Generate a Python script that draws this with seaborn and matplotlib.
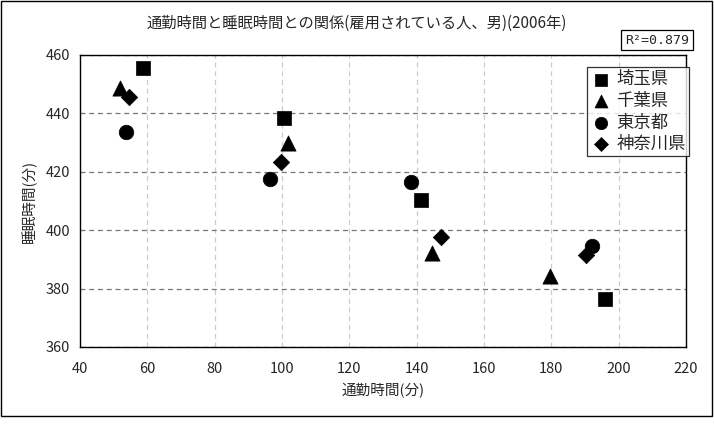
import matplotlib
matplotlib.use("Agg")
import matplotlib.pyplot as plt
import seaborn as sns
import pandas as pd
from matplotlib.patches import Rectangle

sns.set_style("white")
plt.rcParams['font.family'] = ['Noto Sans CJK JP', 'DejaVu Sans']

prefs = ["埼玉県", "千葉県", "東京都", "神奈川県"]
saitama_x = [58.7, 100.6, 141.3, 195.9]
saitama_y = [455.5, 438.4, 410.3, 376.4]
chiba_x = [51.9, 101.8, 144.6, 179.6]
chiba_y = [448.7, 430.0, 392.2, 384.3]
tokyo_x = [53.7, 96.4, 138.3, 192.1]
tokyo_y = [433.6, 417.5, 416.5, 394.6]
kanagawa_x = [54.6, 99.7, 147.2, 190.3]
kanagawa_y = [445.6, 423.4, 397.7, 391.5]
x_ticks = [40, 60, 80, 100, 120, 140, 160, 180, 200, 220]
y_ticks = [360, 380, 400, 420, 440, 460]
title = "通勤時間と睡眠時間との関係(雇用されている人、男)(2006年)"
xlabel = "通勤時間(分)"
ylabel = "睡眠時間(分)"
r2_text = "R²=0.879"

rows = []
for p, xs, ys in zip(prefs, [saitama_x, chiba_x, tokyo_x, kanagawa_x],
                     [saitama_y, chiba_y, tokyo_y, kanagawa_y]):
    for a, b in zip(xs, ys):
        rows.append({"pref": p, "commute": a, "sleep": b})
df = pd.DataFrame(rows)

fig = plt.figure(figsize=(7.14, 4.24), dpi=100)
ax = fig.add_axes([80/714, 77/424, 606/714, 292/424])

markers = {"埼玉県": "s", "千葉県": "^", "東京都": "o", "神奈川県": "D"}
sizes = {"埼玉県": 110, "千葉県": 120, "東京都": 110, "神奈川県": 70}
for p in prefs:
    sub = df[df.pref == p]
    sns.scatterplot(data=sub, x="commute", y="sleep", ax=ax, marker=markers[p],
                    s=sizes[p], color="black", edgecolor="black", linewidth=0.5,
                    label=p, zorder=3)

ax.set_xlim(40, 220)
ax.set_ylim(360, 460)
ax.set_xticks(x_ticks)
ax.set_yticks(y_ticks)
ax.tick_params(axis='both', labelsize=10.5, direction='in', length=4, color='#555555')
ax.tick_params(axis='x', pad=11)
ax.tick_params(axis='y', pad=7)
ax.set_xlabel(xlabel, fontsize=10.5, labelpad=5)
ax.set_ylabel(ylabel, fontsize=10.5, labelpad=6)

ax.yaxis.grid(True, linestyle=(0, (4, 3)), color="#777777", linewidth=0.9)
ax.xaxis.grid(True, linestyle=(0, (4, 3)), color="#cccccc", linewidth=0.9)
ax.set_axisbelow(True)
for s in ax.spines.values():
    s.set_color("black")
    s.set_linewidth(1.0)

fig.text(0.5, (424-23)/424, title, ha="center", va="center", fontsize=11)

leg = ax.legend(loc="upper left", bbox_to_anchor=(587/714, (424-67)/424),
                bbox_transform=fig.transFigure, fontsize=12.5, frameon=True,
                fancybox=False, handletextpad=0.3, borderpad=0.2,
                labelspacing=0.2, handlelength=1.2, borderaxespad=0,
                markerscale=0.85)
leg.get_frame().set_edgecolor("black")
leg.get_frame().set_linewidth(0.9)

fig.text(657/714, (424-40)/424, r2_text, ha="center", va="center", fontsize=9.5,
         family=['DejaVu Sans Mono'],
         bbox=dict(boxstyle="square,pad=0.3", facecolor="white", edgecolor="black", linewidth=0.9))

fig.patches.append(Rectangle((1/714, 8/424), 711/714, 415/424, transform=fig.transFigure,
                             fill=False, edgecolor="black", linewidth=1.0))

fig.savefig("out.png", dpi=100)
